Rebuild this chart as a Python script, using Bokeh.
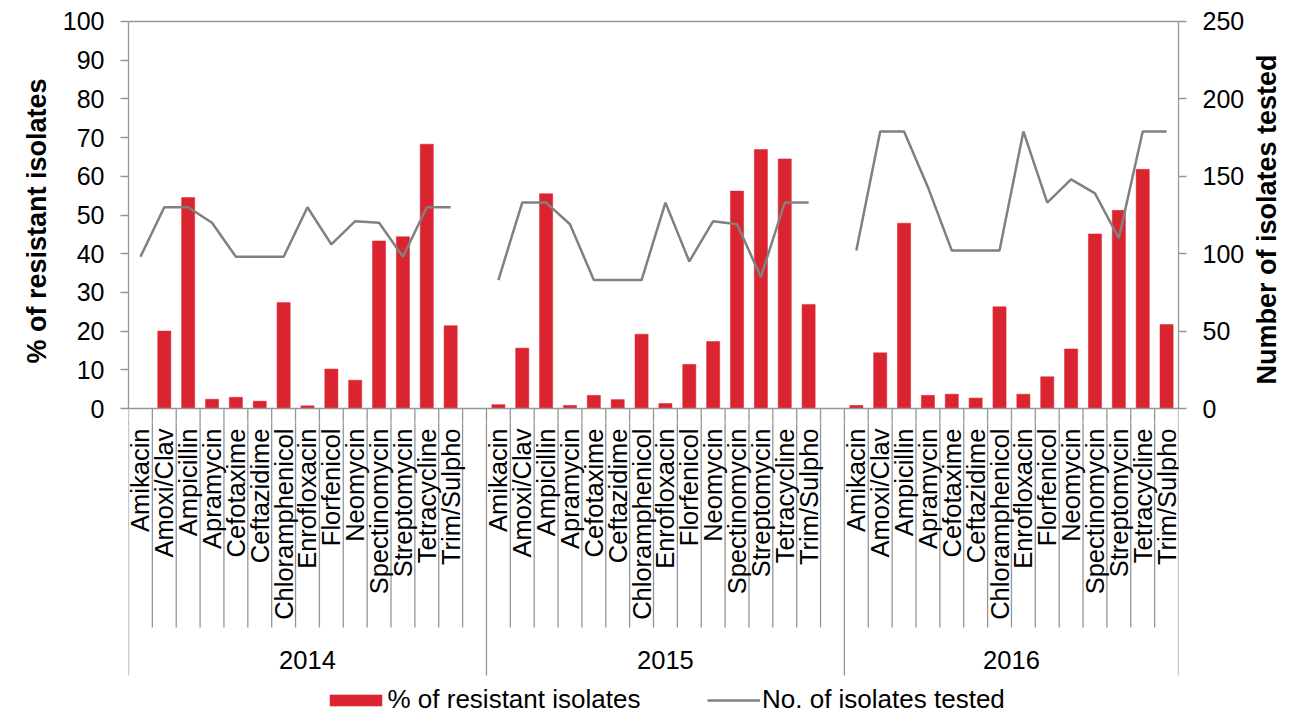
import math
from bokeh.plotting import figure
from bokeh.layouts import column, row
from bokeh.models import (Range1d, LinearAxis, FixedTicker, ColumnDataSource,
                          Legend, LegendItem, Span)
from bokeh.core.properties import value
from bokeh.embed import file_html
from bokeh.resources import INLINE

# ---------------- data ----------------
years = ["2014", "2015", "2016"]
antibiotics = ["Amikacin", "Amoxi/Clav", "Ampicillin", "Apramycin", "Cefotaxime",
               "Ceftazidime", "Chloramphenicol", "Enrofloxacin", "Florfenicol",
               "Neomycin", "Spectinomycin", "Streptomycin", "Tetracycline", "Trim/Sulpho"]

resistant_2014 = [0.0, 20.0, 54.5, 2.4, 2.9, 1.9, 27.4, 0.7, 10.2, 7.3, 43.3, 44.4, 68.3, 21.4]
resistant_2015 = [1.0, 15.6, 55.5, 0.8, 3.4, 2.3, 19.2, 1.3, 11.4, 17.3, 56.2, 66.9, 64.5, 26.9]
resistant_2016 = [0.8, 14.4, 47.9, 3.4, 3.7, 2.7, 26.3, 3.7, 8.2, 15.4, 45.1, 51.2, 61.8, 21.7]

tested_2014 = [98, 130, 130, 120, 98, 98, 98, 130, 106, 121, 120, 98, 130, 130]
tested_2015 = [83, 133, 133, 119, 83, 83, 83, 133, 95, 121, 119, 85, 133, 133]
tested_2016 = [102, 179, 179, 143, 102, 102, 102, 179, 133, 148, 139, 110, 179, 179]

left_ticks = [0, 10, 20, 30, 40, 50, 60, 70, 80, 90, 100]
right_ticks = [0, 50, 100, 150, 200, 250]

resistant = [resistant_2014, resistant_2015, resistant_2016]
tested = [tested_2014, tested_2015, tested_2016]

# ---------------- build slots (Excel-like: blank slot between years) ----------------
NAN = float("nan")
group_size = len(antibiotics) + 1
xs, res_vals, n_vals, names = [], [], [], []
group_starts, group_ends = [], []
for g, yr in enumerate(years):
    start = g * group_size
    group_starts.append(start)
    for i, name in enumerate(antibiotics):
        xs.append(start + i + 0.5)
        res_vals.append(resistant[g][i])
        n_vals.append(tested[g][i])
        names.append(name)
    if g < len(years) - 1:
        xs.append(start + len(antibiotics) + 0.5)
        res_vals.append(NAN)
        n_vals.append(NAN)
        names.append("")
        group_ends.append(start + group_size)
    else:
        group_ends.append(start + len(antibiotics))
n_slots = group_ends[-1]

src = ColumnDataSource(dict(x=xs, res=res_vals, n=n_vals, name=names))

# ---------------- styles ----------------
FONT = "Liberation Sans"
GREY = "#969696"
RED = "#DA2530"
LINEC = "#808080"
TXT = "#000000"

W = 1248
BL, BR = 128, W - 1178
PX = 3.873            # pixels per % unit on the left axis
PAD_T, PAD_B = 2, 14  # pixels of frame above 100 and below 0
TOP_H = 422
BOT_H = 294
SIDE_W = 40

xr = Range1d(0, n_slots)
y_lo, y_hi = -PAD_B / PX, 100 + PAD_T / PX
r_scale = 250 / 100

# ---------------- top chart ----------------
p = figure(width=W, height=TOP_H, output_backend="svg", toolbar_location=None,
           x_range=xr, y_range=Range1d(y_lo, y_hi),
           x_axis_location=None, y_axis_location="left",
           min_border_left=BL, min_border_right=BR, min_border_top=TOP_H - 403,
           min_border_bottom=0)
p.outline_line_color = None
p.grid.visible = False
p.background_fill_color = "white"
p.border_fill_color = "white"


def style_axis(a, ticks, bounds):
    a.ticker = FixedTicker(ticks=ticks)
    a.bounds = bounds
    a.axis_line_color = GREY
    a.axis_line_width = 1.3
    a.major_tick_line_color = GREY
    a.major_tick_line_width = 1.3
    a.major_tick_out = 8
    a.major_tick_in = 0
    a.minor_tick_line_color = None
    a.minor_tick_out = 0
    a.major_label_text_font = FONT
    a.major_label_text_font_size = "25px"
    a.major_label_text_color = TXT
    a.major_label_standoff = 16
    a.axis_label_text_font = FONT
    a.axis_label_text_font_size = "27px"
    a.axis_label_text_font_style = "bold"
    a.axis_label_text_color = TXT
    a.axis_label_standoff = 8


ax = p.yaxis[0]
style_axis(ax, left_ticks, (0, 100))
ax.axis_label = "% of resistant isolates"

p.extra_y_ranges = {"n": Range1d(y_lo * r_scale, y_hi * r_scale)}
rax = LinearAxis(y_range_name="n")
style_axis(rax, right_ticks, (0, 250))
p.add_layout(rax, "right")

p.add_layout(Span(location=100, dimension="width", line_color=GREY, line_width=1.3))
p.add_layout(Span(location=0, dimension="width", line_color=GREY, line_width=1.3))

bx = list(range(0, n_slots + 1))
p.segment(x0=bx, y0=[0] * len(bx), x1=bx, y1=[y_lo - 1] * len(bx),
          line_color=GREY, line_width=1.3)

bars = p.vbar(x="x", top="res", bottom=0, width=0.55, source=src,
              fill_color=RED, line_color=RED, line_width=0.5)
line = p.line(x="x", y="n", source=src, y_range_name="n",
              line_color=LINEC, line_width=2.5)

# ---------------- right-hand axis title strip (pixel coordinates) ----------------
r = figure(width=SIDE_W, height=TOP_H, output_backend="svg", toolbar_location=None,
           x_range=Range1d(0, SIDE_W), y_range=Range1d(TOP_H, 0),
           x_axis_location=None, y_axis_location=None,
           min_border_left=0, min_border_right=0, min_border_top=0, min_border_bottom=0)
r.outline_line_color = None
r.grid.visible = False
r.background_fill_color = "white"
r.border_fill_color = "white"
r.text(x=[1266 - W], y=[219], text=["Number of isolates tested"],
       angle=math.pi / 2, text_align="center", text_baseline="middle",
       text_font=value(FONT), text_font_size=value("27px"),
       text_font_style="bold", text_color=TXT)

# ---------------- category axis area (y = pixels below top of this area) ----------------
q = figure(width=W, height=BOT_H, output_backend="svg", toolbar_location=None,
           x_range=xr, y_range=Range1d(BOT_H, 0),
           x_axis_location=None, y_axis_location=None,
           min_border_left=BL, min_border_right=BR, min_border_top=0, min_border_bottom=0)
q.outline_line_color = None
q.grid.visible = False
q.background_fill_color = "white"
q.border_fill_color = "white"

long_set = set(group_starts + group_ends)
by1 = [253 if b in long_set else 205 for b in bx]
q.segment(x0=bx, y0=[-2] * len(bx), x1=bx, y1=by1, line_color=GREY, line_width=1.3)

lab_src = ColumnDataSource(dict(x=[x for x, nm in zip(xs, names) if nm],
                                name=[nm for nm in names if nm]))
q.text(x="x", y=6, text="name", source=lab_src,
       angle=math.pi / 2, text_align="right", text_baseline="middle",
       text_font=value(FONT), text_font_size=value("25.5px"), text_color=TXT)

year_x = [(s + e) / 2 for s, e in zip(group_starts, group_ends)]
q.text(x=year_x, y=[237] * len(years), text=years,
       text_align="center", text_baseline="middle",
       text_font=value(FONT), text_font_size=value("25.5px"), text_color=TXT)

# legend proxies (same styles as the series, placed outside the visible range)
bar_proxy = q.vbar(x=[-5], top=[1], bottom=0, width=0.55,
                   fill_color=RED, line_color=RED, line_width=0.5)
line_proxy = q.line(x=[-6, -5], y=[1, 1], line_color=LINEC, line_width=2.5)


def make_legend(item, loc, gw, gh, standoff):
    return Legend(items=[item], location=loc, orientation="horizontal",
                  glyph_width=gw, glyph_height=gh, label_standoff=standoff,
                  padding=0, margin=0, spacing=0, border_line_color=None,
                  background_fill_alpha=0, label_height=26,
                  label_text_font=FONT, label_text_font_size="26px",
                  label_text_color=TXT)


q.add_layout(make_legend(LegendItem(label="% of resistant isolates", renderers=[bar_proxy]),
                         (194.5, 1), 65, 14, 0))
q.add_layout(make_legend(LegendItem(label="No. of isolates tested", renderers=[line_proxy]),
                         (579, 1), 53, 14, 2))

layout = row(column(p, q, spacing=0), r, spacing=0)
open("out.html", "w").write(file_html(layout, INLINE))
